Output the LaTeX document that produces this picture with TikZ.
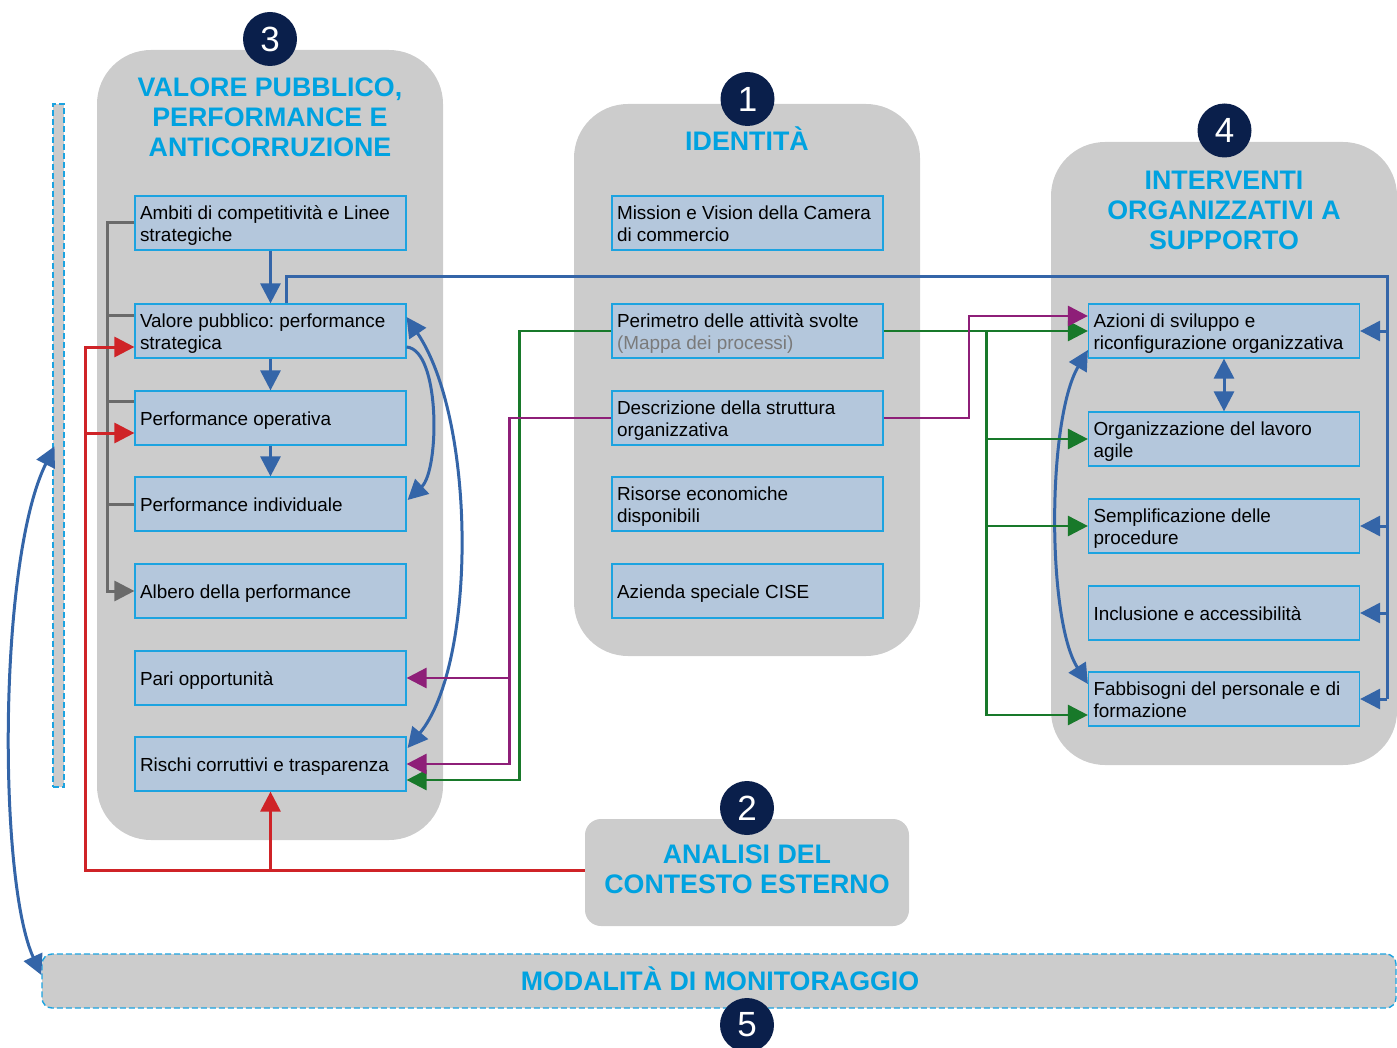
\documentclass[tikz,border=0pt]{standalone}
\usepackage{fontspec}
\setmainfont{Liberation Sans}
\usetikzlibrary{calc,arrows.meta}

\definecolor{panelgray}{HTML}{CCCCCC}
\definecolor{boxfill}{HTML}{B4C7DC}
\definecolor{boxline}{HTML}{1CA3E0}
\definecolor{titlecyan}{HTML}{00A2E0}
\definecolor{navy}{HTML}{0A1F4B}
\definecolor{linkblue}{HTML}{3465A8}
\definecolor{linkgreen}{HTML}{18792A}
\definecolor{linkpurple}{HTML}{8E1F78}
\definecolor{linkred}{HTML}{CF2327}
\definecolor{linkgray}{HTML}{6A6A6A}
\definecolor{subgray}{HTML}{7A7A7A}

\begin{document}
\frenchspacing
\begin{tikzpicture}[x=0.5pt,y=-0.5pt,
  panel/.style={fill=panelgray, draw=none, rounded corners=27pt, inner sep=0pt},
  smallpanel/.style={fill=panelgray, draw=none, rounded corners=8pt, inner sep=0pt},
  dashpanel/.style={fill=panelgray, draw=boxline, line width=0.7pt,
    dash pattern=on 3pt off 1.5pt, rounded corners=5pt, inner sep=0pt},
  bx/.style={fill=boxfill, draw=boxline, line width=0.6pt,
    minimum width=135.5pt, minimum height=27pt, inner xsep=2.5pt, inner ysep=0pt,
    text width=130.5pt, align=flush left,
    font=\fontsize{9.45pt}{11pt}\selectfont,
    execute at begin node={\rule{0pt}{9.7pt}},
    execute at end node={\rule[-2.4pt]{0pt}{2.4pt}}},
  badge/.style={circle, fill=navy, text=white, minimum size=27pt, inner sep=0pt,
    font=\fontsize{17.5pt}{20pt}\selectfont},
  ptitle/.style={text=titlecyan, align=center, inner sep=0pt,
    font=\fontsize{13.4pt}{15pt}\selectfont\bfseries},
  endtip/.style={-{Triangle[length=10pt,width=10pt]}},
  twotips/.style={{Triangle[length=10pt,width=10pt]}-{Triangle[length=10pt,width=10pt]}},
  blu/.style={draw=linkblue, line width=1.5pt},
  grn/.style={draw=linkgreen, line width=1.4pt},
  prp/.style={draw=linkpurple, line width=1.4pt},
  rd/.style={draw=linkred, line width=1.5pt},
  gry/.style={draw=linkgray, line width=1.5pt},
]
\useasboundingbox (0,0) rectangle (1397,1048);

% ---- background panels ----
\node[panel, minimum width=173pt, minimum height=395pt] (p3) at (270,445) {};
\node[panel, minimum width=173pt, minimum height=276pt] (p1) at (747,380) {};
\node[panel, minimum width=173pt, minimum height=311.5pt] (p4) at (1224,453.5) {};
\node[smallpanel, minimum width=162pt, minimum height=53.5pt] (p2) at (747,872.5) {};
\node[dashpanel, minimum width=677pt, minimum height=27pt] (mon) at (719,981) {};
\node[dashpanel, rounded corners=0pt, minimum width=5.5pt, minimum height=341.5pt] (bar) at (58.5,445.5) {};

% ---- panel titles ----
\node[ptitle] (t3) at (270,117) {VALORE PUBBLICO,\\PERFORMANCE E\\ANTICORRUZIONE};
\node[ptitle, anchor=base] (t1) at (747,150.5) {IDENTITÀ};
\node[ptitle] (t4) at (1224,210) {INTERVENTI\\ORGANIZZATIVI A\\SUPPORTO};
\node[ptitle] (t2) at (747,869.5) {ANALISI DEL\\CONTESTO ESTERNO};
\node[ptitle, anchor=base] (t5) at (720,990.5) {MODALITÀ DI MONITORAGGIO};

% ---- numbered badges ----
\node[badge] (b3) at (270,39) {3};
\node[badge] (b1) at (747.5,99) {1};
\node[badge] (b4) at (1224.5,130.5) {4};
\node[badge] (b2) at (747,808) {2};
\node[badge] (b5) at (747,1025) {5};

% ---- column 3 boxes ----
\node[bx] (amb)  at (270.5,223) {Ambiti di competitività e Linee\\strategiche};
\node[bx] (val)  at (270.5,331) {Valore pubblico: performance\\strategica};
\node[bx] (pop)  at (270.5,418) {Performance operativa};
\node[bx] (pin)  at (270.5,504) {Performance individuale};
\node[bx] (alb)  at (270.5,591) {Albero della performance};
\node[bx] (pari) at (270.5,678) {Pari opportunità};
\node[bx] (risc) at (270.5,764) {Rischi corruttivi e trasparenza};

% ---- column 1 boxes ----
\node[bx] (mis)  at (747.5,223) {Mission e Vision della Camera\\di commercio};
\node[bx] (per)  at (747.5,331) {Perimetro delle attività svolte\\\textcolor{subgray}{(Mappa dei processi)}};
\node[bx] (des)  at (747.5,418) {Descrizione della struttura\\organizzativa};
\node[bx] (ris)  at (747.5,504) {Risorse economiche\\disponibili};
\node[bx] (cise) at (747.5,591) {Azienda speciale CISE};

% ---- column 4 boxes ----
\node[bx] (az)  at (1224,331) {Azioni di sviluppo e\\riconfigurazione organizzativa};
\node[bx] (org) at (1224,439) {Organizzazione del lavoro\\agile};
\node[bx] (sem) at (1224,526) {Semplificazione delle\\procedure};
\node[bx] (inc) at (1224,613) {Inclusione e accessibilità};
\node[bx] (fab) at (1224,699) {Fabbisogni del personale e di\\formazione};

% ---- gray tree on the left of column 3 ----
\draw[gry, endtip] (amb.west) -| ($(alb.west)+(-27,0)$) -- (alb.west);
\draw[gry] ($(val.west)+(0,-16)$) -- ++(-27,0);
\draw[gry] ($(pop.west)+(0,-17)$) -- ++(-27,0);
\draw[gry] (pin.west) -- ++(-27,0);

% ---- blue cascade in column 3 ----
\draw[blu, endtip] (amb.south) -- (val.north);
\draw[blu, endtip] (val.south) -- (pop.north);
\draw[blu, endtip] (pop.south) -- (pin.north);
\draw[blu, endtip] ($(val.east)+(0,16)$) .. controls ($(val.east)+(34,19)$) and ($(pin.east)+(33,-34)$) .. ($(pin.east)+(1,-4)$);
\draw[blu, twotips] ($(val.east)+(0,-14)$) .. controls ($(val.east)+(70,90)$) and ($(risc.east)+(70,-100)$) .. ($(risc.east)+(1,-16)$);

% ---- blue loop from column 3 to column 4 ----
\draw[blu] ($(val.north)+(15.5,0)$) -- ++(0,-27) -| ($(fab.east)+(27,0)$);
\draw[blu, endtip] ($(az.east)+(27,0)$) -- (az.east);
\draw[blu, endtip] ($(sem.east)+(27,0)$) -- (sem.east);
\draw[blu, endtip] ($(inc.east)+(27,0)$) -- (inc.east);
\draw[blu, endtip] ($(fab.east)+(27,0)$) -- (fab.east);

% ---- blue links inside column 4 ----
\draw[blu, twotips] (az.south) -- (org.north);
\draw[blu, twotips] ($(az.west)+(0,19)$) .. controls ($(az.west)+(-41,89)$) and ($(fab.west)+(-41,-79)$) .. ($(fab.west)+(0,-15)$);

% ---- monitoring link ----
\draw[blu, twotips] ($(bar.north)+(-4,343)$) .. controls (-2,560) and (-2,880) .. ($(mon.west)+(0,-6)$);

% ---- green links from the activity perimeter ----
\draw[grn, endtip] (per.east) -- (az.west);
\draw[grn, endtip] ($(per.east)+(103,0)$) |- (org.west);
\draw[grn, endtip] ($(per.east)+(103,0)$) |- (sem.west);
\draw[grn, endtip] ($(per.east)+(103,0)$) |- ($(fab.west)+(0,16)$);
\draw[grn, endtip] (per.west) -| ($(risc.east)+(113,16)$) -- ($(risc.east)+(0,16)$);

% ---- purple links from the organisational structure ----
\draw[prp, endtip] (des.east) -| ($(az.west)+(-119,-15)$) -- ($(az.west)+(0,-15)$);
\draw[prp, endtip] (des.west) -| ($(risc.east)+(103,0)$) -- (risc.east);
\draw[prp, endtip] ($(pari.east)+(103,0)$) -- (pari.east);

% ---- red links from the external context ----
\draw[rd, endtip] ($(p2.west)+(0,-2.5)$) -| ($(val.west)+(-49,16)$) -- ($(val.west)+(0,16)$);
\draw[rd, endtip] ($(pop.west)+(-49,15)$) -- ($(pop.west)+(0,15)$);
\draw[rd, endtip] ($(risc.south |- p2.west)+(0,-2.5)$) -- (risc.south);

\end{tikzpicture}
\end{document}
